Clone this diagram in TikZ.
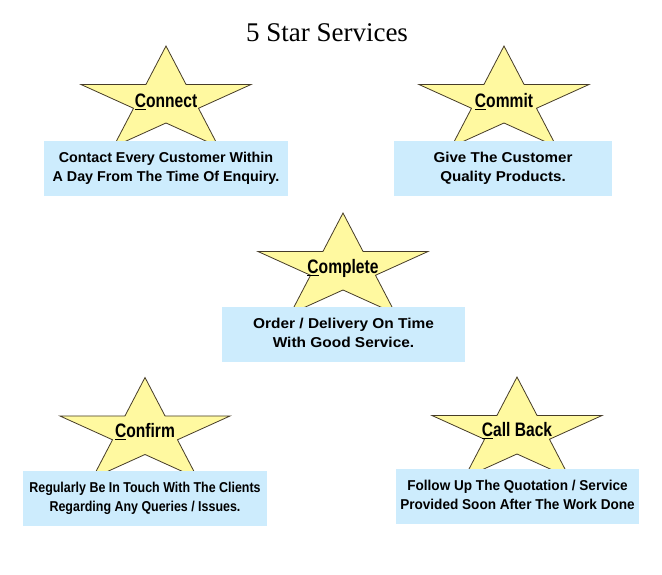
\documentclass[tikz,border=0pt]{standalone}
\usepackage{graphicx}
\usepackage{fontspec}
\setmainfont{Liberation Serif}
\newfontfamily\boxfont{Liberation Sans}
\newfontfamily\narrowfont[FakeStretch=0.8]{Liberation Sans}
\definecolor{starfill}{RGB}{255,249,160}
\definecolor{staredge}{RGB}{70,60,40}
\definecolor{boxfill}{RGB}{205,236,253}
\newcommand\boxtext[3]{\scalebox{#1}[1]{\begin{tabular}{@{}c@{}}#2\\#3\end{tabular}}}
\tikzset{
  starshape/.style={draw=staredge, fill=starfill, line width=0.8pt, line join=miter},
  starpic/.pic={
    \draw[starshape, x=89.4pt, y=55.7pt]
      (90:1) -- (126:0.382) -- (162:1) -- (198:0.382) -- (234:1) -- (270:0.382)
      -- (306:1) -- (342:0.382) -- (18:1) -- (54:0.382) -- cycle;
  },
  starlabel/.style={font=\narrowfont\bfseries\fontsize{19.5pt}{22pt}\selectfont, inner sep=0pt},
  infobox/.style={fill=boxfill, draw=none, minimum height=55pt, align=center,
    font=\boxfont\bfseries\fontsize{14.3pt}{19pt}\selectfont, inner sep=0pt},
  titlestyle/.style={font=\fontsize{27pt}{30pt}\selectfont, inner sep=0pt}
}
\begin{document}
\begin{tikzpicture}[x=1pt, y=-1pt]
\useasboundingbox (0,0) rectangle (662,574);
\fill[white] (0,0) rectangle (662,574);

\node[titlestyle] (title) at (327,33) {5 Star Services};

% Connect
\pic at (166,101.7) {starpic};
\node[starlabel] (lconnect) at (166,101.5) {\underline{C}onnect};
\node[infobox, minimum width=244pt] (bconnect) at (166,168.5)
  {\boxtext{1}{Contact Every Customer Within}{A Day From The Time Of Enquiry.}};

% Commit
\pic at (504,101.7) {starpic};
\node[starlabel] (lcommit) at (504,102) {\underline{C}ommit};
\node[infobox, minimum width=218pt] (bcommit) at (503,168.5)
  {\boxtext{1.06}{Give The Customer}{Quality Products.}};

% Complete
\pic at (343,268.7) {starpic};
\node[starlabel] (lcomplete) at (343,268.5) {\underline{C}omplete};
\node[infobox, minimum width=243pt] (bcomplete) at (343.5,334.5)
  {\boxtext{1.08}{Order / Delivery On Time}{With Good Service.}};

% Confirm
\pic at (145,433.2) {starpic};
\node[starlabel] (lconfirm) at (145,431.5) {\underline{C}onfirm};
\node[infobox, minimum width=244pt] (bconfirm) at (145,498)
  {\boxtext{0.87}{Regularly Be In Touch With The Clients}{Regarding Any Queries / Issues.}};

% Call Back
\pic at (517,432.7) {starpic};
\node[starlabel] (lcallback) at (517,431) {\underline{C}all Back};
\node[infobox, minimum width=243pt] (bcallback) at (517.5,496.5)
  {\boxtext{0.95}{Follow Up The Quotation / Service}{Provided Soon After The Work Done}};
\end{tikzpicture}
\end{document}
